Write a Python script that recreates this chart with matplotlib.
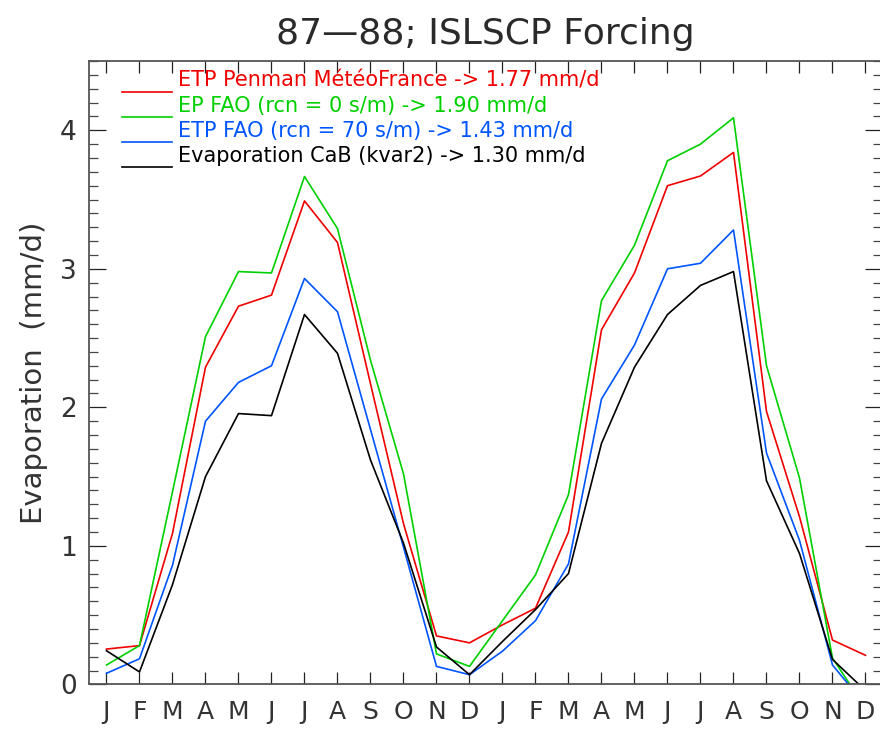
import matplotlib
matplotlib.use('Agg')
import matplotlib.pyplot as plt
from matplotlib.ticker import MultipleLocator

# month labels for the two years (87-88)
months = ['J', 'F', 'M', 'A', 'M', 'J', 'J', 'A', 'S', 'O', 'N', 'D'] * 2

# monthly evaporation values (mm/d)
etp_penman = [0.255, 0.28, 1.09, 2.29, 2.73, 2.81, 3.49, 3.19, 2.17, 1.16, 0.35, 0.30,
              0.43, 0.55, 1.10, 2.56, 2.97, 3.60, 3.67, 3.84, 1.97, 1.21, 0.32, 0.21]
ep_fao_0 = [0.14, 0.28, 1.39, 2.51, 2.98, 2.97, 3.666, 3.29, 2.34, 1.52, 0.22, 0.13,
            0.46, 0.79, 1.37, 2.77, 3.17, 3.78, 3.90, 4.09, 2.30, 1.49, 0.19, -0.17]
etp_fao_70 = [0.08, 0.185, 0.86, 1.90, 2.18, 2.30, 2.93, 2.69, 1.84, 0.99, 0.13, 0.07,
              0.24, 0.46, 0.87, 2.06, 2.45, 3.00, 3.04, 3.28, 1.67, 1.04, 0.14, -0.15]
evap_cab = [0.243, 0.09, 0.72, 1.50, 1.955, 1.94, 2.67, 2.39, 1.62, 1.02, 0.27, 0.07,
            0.31, 0.54, 0.80, 1.74, 2.29, 2.67, 2.88, 2.98, 1.47, 0.945, 0.18, -0.045]

labels = ['ETP Penman MétéoFrance -> 1.77 mm/d',
          'EP FAO (rcn = 0 s/m) -> 1.90 mm/d',
          'ETP FAO (rcn = 70 s/m) -> 1.43 mm/d',
          'Evaporation CaB (kvar2) -> 1.30 mm/d']
series = [etp_penman, ep_fao_0, etp_fao_70, evap_cab]
colors = ['#f00000', '#00d000', '#0055ff', '#000000']

W, H = 880, 729
fig = plt.figure(figsize=(W / 100, H / 100), dpi=100)
# axes box in pixels: left 89, right ~882 (just off the image), top 61, bottom 684
ax = fig.add_axes([89 / W, (H - 684.4) / H, (882 - 89) / W, (684.4 - 61) / H])

x = list(range(len(months)))
for vals, col in zip(series, colors):
    ax.plot(x, vals, color=col, lw=1.2)

ax.set_xlim(-0.53, 23.5)
ax.set_ylim(0, 4.5)
ax.set_xticks(x)
ax.set_xticklabels(months)
ax.yaxis.set_major_locator(MultipleLocator(1))
ax.yaxis.set_minor_locator(MultipleLocator(0.1))

ax.tick_params(axis='x', which='major', direction='in', top=True, bottom=True,
               length=8.6, width=0.9, color='#222222', labelsize=18, pad=11,
               labelcolor='#333333')
ax.tick_params(axis='y', which='major', direction='in', left=True, right=True,
               length=12, width=0.9, color='#222222', labelsize=19, pad=9,
               labelcolor='#333333')
ax.tick_params(axis='y', which='minor', direction='in', left=True, right=True,
               length=6.2, width=0.9, color='#444444')
for sp in ax.spines.values():
    sp.set_color('#555555')
    sp.set_linewidth(1.3)

# the 0 label sits a little above its tick
ylabs = ax.get_yticklabels()
ylabs[0].set_va('bottom')

ax.set_ylabel('Evaporation  (mm/d)', fontsize=21, color='#333333')
ax.yaxis.set_label_coords(-0.052, 0.5)

# title centred over the plot box
ax.text(0.5, 1 + 27 / (684.4 - 61), '87\u201488; ISLSCP Forcing', ha='center', va='center',
        fontsize=26, color='#2a2a2a', transform=ax.transAxes)

# legend drawn by hand, in axes fraction
bw, bh = 882 - 89, 684.4 - 61
for i, (lab, col) in enumerate(zip(labels, colors)):
    yl = 684.4 - (91.7 + 25 * i)
    ax.plot([(122 - 89) / bw, (172 - 89) / bw], [yl / bh, yl / bh], color=col, lw=1.2,
            transform=ax.transAxes, clip_on=False)
    ax.text((178 - 89) / bw, (yl + 1) / bh, lab, color=col, fontsize=15,
            transform=ax.transAxes, va='bottom', ha='left')

fig.savefig('out.png', dpi=100)
